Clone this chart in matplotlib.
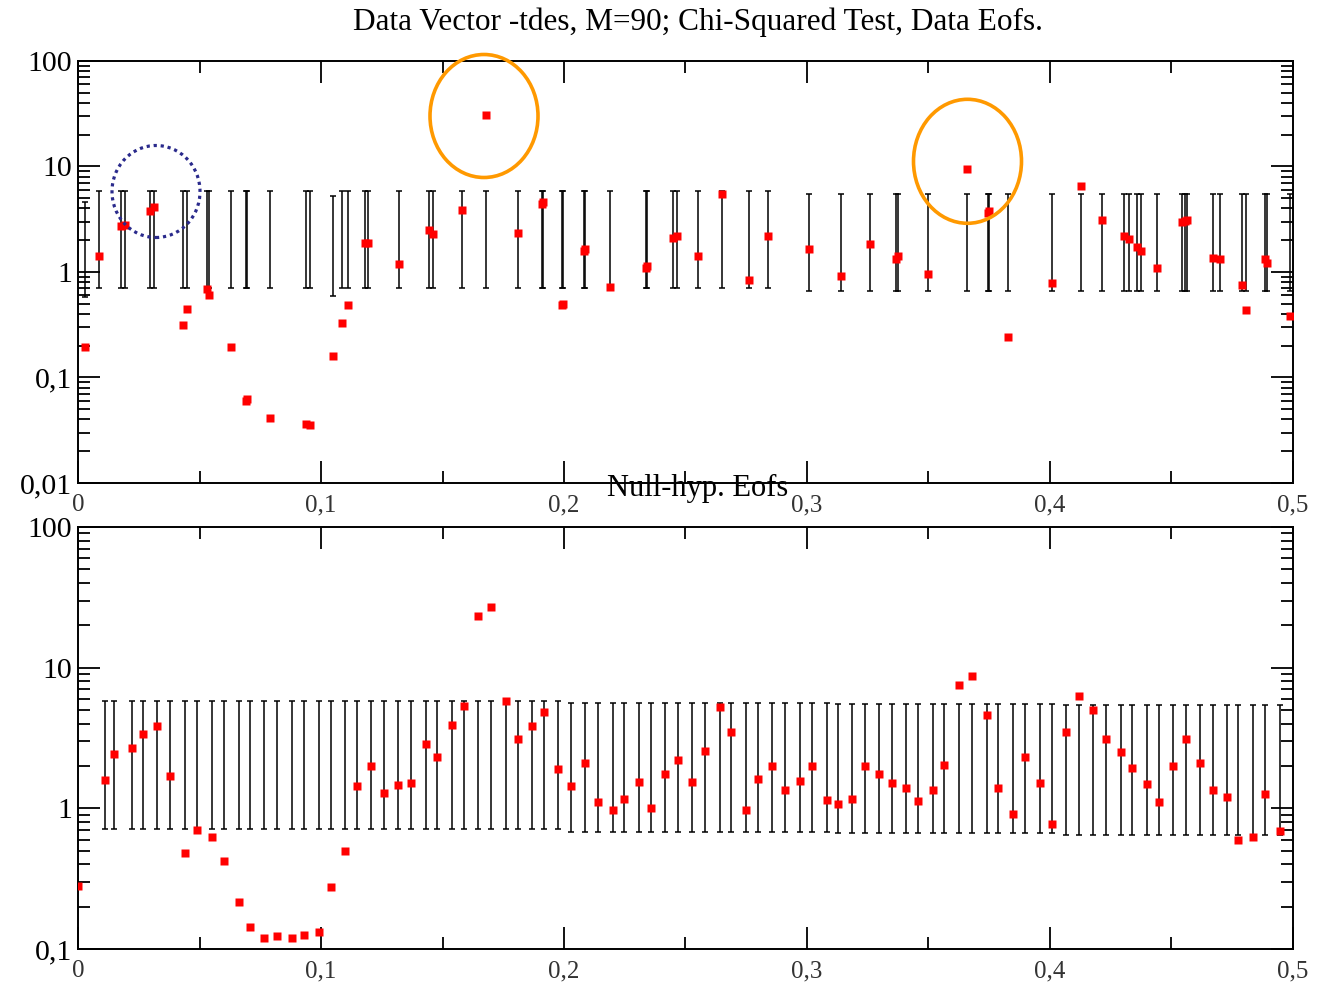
import numpy as np
import matplotlib.pyplot as plt
from matplotlib.patches import Ellipse
from matplotlib.ticker import FuncFormatter, MultipleLocator, NullFormatter

plt.rcParams['font.family'] = ['Liberation Serif', 'DejaVu Serif']

# ---- upper panel: data EOFs ----
top_x = [0.0029, 0.0088, 0.0176, 0.0193, 0.0296, 0.0313, 0.0431, 0.0450, 0.0530, 0.0540,
         0.0628, 0.0692, 0.0697, 0.0790, 0.0940, 0.0955, 0.1050, 0.1088, 0.1110, 0.1183,
         0.1192, 0.1320, 0.1446, 0.1462, 0.1580, 0.1678, 0.1812, 0.1910, 0.1914, 0.1992,
         0.1996, 0.2082, 0.2086, 0.2190, 0.2338, 0.2342, 0.2447, 0.2464, 0.2553, 0.2649,
         0.2760, 0.2838, 0.3007, 0.3140, 0.3259, 0.3366, 0.3376, 0.3500, 0.3657, 0.3744,
         0.3750, 0.3827, 0.4007, 0.4126, 0.4216, 0.4305, 0.4326, 0.4357, 0.4373, 0.4439,
         0.4542, 0.4555, 0.4565, 0.4670, 0.4700, 0.4791, 0.4805, 0.4886, 0.4894, 0.4988]
top_y = [0.196, 1.42, 2.7, 2.8, 3.8, 4.1, 0.315, 0.45, 0.685, 0.605,
         0.196, 0.060, 0.062, 0.0416, 0.036, 0.0355, 0.161, 0.33, 0.487, 1.87,
         1.90, 1.18, 2.48, 2.29, 3.87, 30.6, 2.34, 4.45, 4.65, 0.49,
         0.50, 1.58, 1.66, 0.72, 1.10, 1.13, 2.11, 2.19, 1.42, 5.49,
         0.846, 2.21, 1.65, 0.916, 1.84, 1.32, 1.42, 0.957, 9.53, 3.60,
         3.75, 0.244, 0.78, 6.53, 3.11, 2.19, 2.04, 1.74, 1.59, 1.10,
         3.00, 3.05, 3.11, 1.37, 1.32, 0.753, 0.436, 1.32, 1.22, 0.385]
# error bar limits, stepwise along x
top_bar_edges = [0.3]
top_bar_hi = [5.9, 5.5]
top_bar_lo = [0.70, 0.66]
# a couple of bars that are shorter
top_special = {0.0029: (0.58, 4.6), 0.1050: (0.59, 5.2)}

# ---- lower panel: null-hypothesis EOFs ----
bot_x = [0.0000, 0.0110, 0.0148, 0.0222, 0.0267, 0.0326, 0.0379, 0.0439, 0.0491, 0.0550,
         0.0600, 0.0661, 0.0708, 0.0767, 0.0818, 0.0879, 0.0930, 0.0992, 0.1040, 0.1099,
         0.1147, 0.1207, 0.1260, 0.1318, 0.1370, 0.1432, 0.1476, 0.1539, 0.1588, 0.1647,
         0.1701, 0.1760, 0.1812, 0.1869, 0.1916, 0.1975, 0.2027, 0.2087, 0.2140, 0.2200,
         0.2248, 0.2309, 0.2357, 0.2416, 0.2468, 0.2528, 0.2580, 0.2641, 0.2689, 0.2749,
         0.2797, 0.2857, 0.2909, 0.2970, 0.3022, 0.3082, 0.3126, 0.3186, 0.3239, 0.3296,
         0.3348, 0.3409, 0.3458, 0.3520, 0.3565, 0.3626, 0.3678, 0.3740, 0.3787, 0.3849,
         0.3897, 0.3959, 0.4007, 0.4066, 0.4120, 0.4178, 0.4230, 0.4291, 0.4336, 0.4398,
         0.4447, 0.4505, 0.4560, 0.4617, 0.4672, 0.4730, 0.4775, 0.4835, 0.4886, 0.4947]
bot_y = [0.28, 1.60, 2.44, 2.68, 3.39, 3.82, 1.71, 0.482, 0.706, 0.626,
         0.423, 0.215, 0.143, 0.120, 0.124, 0.119, 0.126, 0.133, 0.274, 0.495,
         1.44, 2.00, 1.28, 1.46, 1.52, 2.88, 2.31, 3.94, 5.35, 23.4,
         27.1, 5.77, 3.10, 3.82, 4.85, 1.90, 1.44, 2.11, 1.10, 0.97,
         1.16, 1.53, 1.01, 1.76, 2.21, 1.54, 2.54, 5.29, 3.50, 0.98,
         1.61, 1.99, 1.36, 1.57, 1.99, 1.15, 1.07, 1.16, 1.99, 1.76,
         1.52, 1.40, 1.13, 1.36, 2.02, 7.57, 8.78, 4.57, 1.40, 0.916,
         2.31, 1.52, 0.77, 3.48, 6.33, 5.01, 3.09, 2.52, 1.93, 1.48,
         1.10, 2.00, 3.09, 2.10, 1.36, 1.20, 0.593, 0.626, 1.26, 0.687]
bot_bar_edges = [0.2, 0.31, 0.405]
bot_bar_hi = [5.8, 5.65, 5.5, 5.45]
bot_bar_lo = [0.71, 0.68, 0.67, 0.65]

top_x = np.array(top_x); top_y = np.array(top_y)
bot_x = np.array(bot_x); bot_y = np.array(bot_y)

seg = np.digitize(top_x, top_bar_edges)
t_lo = np.array(top_bar_lo)[seg]
t_hi = np.array(top_bar_hi)[seg]
for k, (lo, hi) in top_special.items():
    i = np.argmin(abs(top_x - k))
    t_lo[i], t_hi[i] = lo, hi

bx = bot_x[1:]   # first point (x=0) has no bar
seg = np.digitize(bx, bot_bar_edges)
b_lo = np.array(bot_bar_lo)[seg]
b_hi = np.array(bot_bar_hi)[seg]


def comma(v, pos):
    return ('%g' % v).replace('.', ',')


fig = plt.figure(figsize=(13.18, 9.83), dpi=100)
ax1 = fig.add_axes([0.0592, 0.5087, 0.9218, 0.4293])
ax2 = fig.add_axes([0.0592, 0.0346, 0.9218, 0.4293])

ax1.errorbar(top_x, t_lo, yerr=[np.zeros(len(top_x)), t_hi - t_lo], fmt='none',
             ecolor='black', elinewidth=1.1, capsize=2.2, capthick=1.1, zorder=2)
ax1.plot(top_x, top_y, 's', color='#ff0000', ms=6, mec='none', zorder=3)

ax2.errorbar(bx, b_lo, yerr=[np.zeros(len(bx)), b_hi - b_lo], fmt='none',
             ecolor='black', elinewidth=1.1, capsize=2.2, capthick=1.1, zorder=2)
ax2.plot(bot_x, bot_y, 's', color='#ff0000', ms=6, mec='none', zorder=3)

for ax in (ax1, ax2):
    ax.set_yscale('log')
    ax.set_xlim(0, 0.5)
    if ax is ax1:
        ax.set_ylim(0.01, 100)
    else:
        ax.set_ylim(0.1, 100)
    ax.xaxis.set_major_locator(MultipleLocator(0.1))
    ax.xaxis.set_minor_locator(MultipleLocator(0.05))
    ax.xaxis.set_major_formatter(FuncFormatter(comma))
    ax.yaxis.set_major_formatter(FuncFormatter(comma))
    ax.yaxis.set_minor_formatter(NullFormatter())
    ax.tick_params(which='both', direction='in', top=True, right=True, width=1.3)
    ax.tick_params(which='major', length=16)
    ax.tick_params(which='minor', length=8.5)
    ax.tick_params(axis='x', labelsize=18, pad=8, labelcolor='#333333')
    ax.tick_params(axis='y', labelsize=21.5, pad=4)
    for s in ax.spines.values():
        s.set_linewidth(1.4)

fig.text(0.5296, 1 - 22 / 983, 'Data Vector -tdes, M=90; Chi-Squared Test, Data Eofs.',
         ha='center', va='center', fontsize=22.5)
fig.text(0.5296, 1 - 488 / 983, 'Null-hyp. Eofs', ha='center', va='center', fontsize=22)

# hand-drawn highlight circles
W, H = 1318, 983
fig.add_artist(Ellipse((156 / W, 1 - 191.5 / H), 88 / W, 92 / H, transform=fig.transFigure,
                       fill=False, ec='#2a2a8c', lw=2.3, ls=(0, (1, 1.2)), clip_on=False))
fig.add_artist(Ellipse((484 / W, 1 - 116 / H), 108 / W, 123 / H, transform=fig.transFigure,
                       fill=False, ec='#ff9900', lw=2.6, clip_on=False))
fig.add_artist(Ellipse((967.5 / W, 1 - 161.3 / H), 108 / W, 124 / H, transform=fig.transFigure,
                       fill=False, ec='#ff9900', lw=2.6, clip_on=False))

plt.savefig('out.png', dpi=100)
